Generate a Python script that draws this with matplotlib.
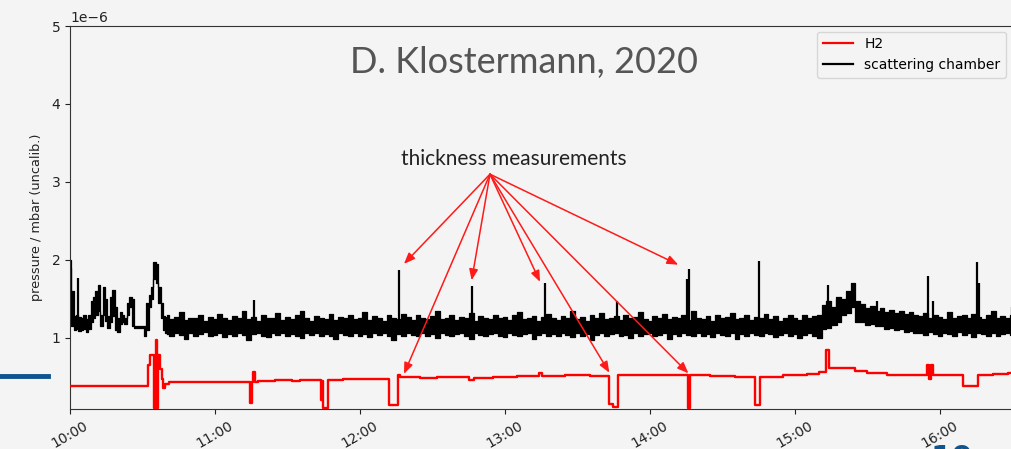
import numpy as np
import matplotlib
matplotlib.use("Agg")
import matplotlib.pyplot as plt
import matplotlib.dates as mdates
from matplotlib.lines import Line2D

# ---------------- data (minutes after 10:00, pressure in 1e-6 mbar) ----------------
early_t = list(range(0, 41))
early_hi = [2.00, 1.60, 1.28, 1.30, 1.27, 1.25, 1.29, 1.24, 1.30, 1.48,
            1.52, 1.60, 1.68, 1.30, 1.66, 1.50, 1.28, 1.52, 1.62, 1.40,
            1.25, 1.33, 1.30, 1.26, 1.45, 1.53, 1.50, 1.15, 1.15, 1.15,
            1.15, 1.15, 1.45, 1.55, 1.65, 1.98, 1.95, 1.65, 1.45, 1.28, 1.27]
early_lo = [1.90, 1.15, 1.10, 1.12, 1.09, 1.10, 1.11, 1.08, 1.12, 1.20,
            1.26, 1.30, 1.35, 1.16, 1.30, 1.22, 1.13, 1.20, 1.28, 1.10,
            1.08, 1.18, 1.20, 1.18, 1.30, 1.40, 1.15, 1.13, 1.13, 1.13,
            1.13, 1.03, 1.10, 1.40, 1.50, 1.75, 1.70, 1.45, 1.25, 1.10, 1.06]

band_t = list(range(40, 392, 2))
band_hi = [1.29, 1.24, 1.27, 1.33, 1.23, 1.26, 1.25, 1.30, 1.22, 1.27,
           1.24, 1.31, 1.26, 1.23, 1.28, 1.25, 1.34, 1.24, 1.27, 1.22,
           1.29, 1.26, 1.25, 1.32, 1.23, 1.27, 1.24, 1.29, 1.35, 1.25,
           1.22, 1.28, 1.26, 1.24, 1.31, 1.23, 1.27, 1.25, 1.30, 1.24,
           1.26, 1.33, 1.23, 1.28, 1.25, 1.22, 1.29, 1.26, 1.24, 1.31,
           1.27, 1.23, 1.30, 1.25, 1.24, 1.28, 1.34, 1.24, 1.26, 1.29,
           1.23, 1.27, 1.25, 1.32, 1.22, 1.28, 1.26, 1.24, 1.30, 1.25,
           1.27, 1.23, 1.29, 1.33, 1.24, 1.26, 1.28, 1.22, 1.27, 1.31,
           1.25, 1.23, 1.28, 1.26, 1.35, 1.24, 1.27, 1.22, 1.29, 1.25,
           1.32, 1.24, 1.26, 1.28, 1.23, 1.30, 1.25, 1.27, 1.33, 1.24,
           1.22, 1.28, 1.26, 1.31, 1.24, 1.27, 1.25, 1.29, 1.23, 1.34,
           1.26, 1.24, 1.28, 1.22, 1.30, 1.25, 1.27, 1.32, 1.24, 1.26,
           1.29, 1.23, 1.27, 1.25, 1.31, 1.24, 1.28, 1.22, 1.26, 1.30,
           1.25, 1.23, 1.29, 1.26, 1.28,
           1.30, 1.42, 1.47, 1.40, 1.52, 1.50, 1.60, 1.70, 1.47, 1.43,
           1.38, 1.41, 1.35, 1.39, 1.33, 1.36, 1.32, 1.35, 1.31, 1.33, 1.30,
           1.28, 1.32, 1.25, 1.29, 1.27, 1.24, 1.33, 1.26, 1.28, 1.30,
           1.25, 1.31, 1.27, 1.24, 1.29, 1.34, 1.26, 1.28, 1.25, 1.30]
band_lo = [1.05, 1.02, 1.07, 1.04, 0.99, 1.06, 1.03, 1.05, 1.08, 1.02,
           1.04, 1.06, 1.01, 1.05, 1.03, 1.07, 1.04, 0.98, 1.05, 1.06,
           1.03, 1.01, 1.06, 1.04, 1.07, 1.02, 1.05, 1.03, 1.00, 1.06,
           1.04, 1.07, 1.02, 1.05, 1.03, 0.99, 1.06, 1.04, 1.02, 1.07,
           1.03, 1.05, 1.01, 1.06, 1.04, 1.07, 1.02, 0.98, 1.05, 1.03,
           1.06, 1.04, 1.02, 1.07, 1.03, 1.05, 1.00, 1.06, 1.04, 1.02,
           1.05, 1.07, 1.03, 0.99, 1.06, 1.04, 1.02, 1.05, 1.07, 1.03,
           1.01, 1.06, 1.04, 1.02, 1.05, 1.07, 0.99, 1.04, 1.06, 1.03,
           1.05, 1.02, 1.07, 1.04, 1.01, 1.06, 1.03, 1.05, 0.98, 1.04,
           1.06, 1.03, 1.05, 1.07, 1.02, 1.04, 1.00, 1.06, 1.03, 1.05,
           1.07, 1.02, 1.04, 1.06, 0.99, 1.05, 1.03, 1.07, 1.04, 1.02,
           1.06, 1.03, 1.05, 1.01, 1.07, 1.04, 1.02, 1.06, 0.99, 1.05,
           1.03, 1.06, 1.04, 1.02, 1.07, 1.05, 1.01, 1.04, 1.06, 1.03,
           1.05, 1.00, 1.04, 1.06, 1.03,
           1.00, 1.12, 1.13, 1.17, 1.21, 1.29, 1.32, 1.40, 1.20, 1.21,
           1.17, 1.18, 1.15, 1.16, 1.12, 1.13, 1.10, 1.11, 1.08, 1.09, 1.07,
           1.07, 1.04, 1.08, 1.05, 1.02, 1.07, 1.05, 1.03, 1.08, 1.04,
           1.06, 1.01, 1.07, 1.05, 1.03, 1.06, 1.02, 1.05, 1.07, 1.04]

spike_t = [3.4, 76.3, 136.3, 166.2, 196.6, 226.2, 255.5, 256.1, 285.2,
           313.8, 317.5, 333.8, 355.2, 357.2, 375.2, 376.0, 382.8, 389.7]
spike_top = [1.77, 1.49, 1.87, 1.67, 1.70, 1.48, 1.75, 1.88, 1.99,
             1.68, 1.49, 1.47, 1.79, 1.47, 1.98, 1.70, 1.35, 1.40]

h2_t = [0, 32.1, 33.0, 34.9, 35.4, 35.9, 36.3, 37.2, 38.0, 38.6, 39.5, 41.0,
        50, 58, 62, 74.3, 75.3, 75.6, 76.5, 78, 85, 92, 95,
        103.8, 104.3, 104.8, 106.8, 113, 118, 125,
        132.1, 135.8, 136.6, 145, 152, 165, 167, 175, 185, 194.2, 195.2,
        205, 215, 223.2, 224.6, 226.9, 235, 245, 255.9, 256.4, 265, 275,
        283.4, 285.5, 295, 305, 310, 313.0, 314.0, 318, 325, 330, 338, 345,
        354.5, 355.3, 356.2, 357.2, 369.7, 375.9, 382, 388, 392]
h2_v = [0.39, 0.65, 0.78, 0.10, 0.97, 0.10, 0.78, 0.60, 0.48, 0.36, 0.41, 0.43,
        0.44, 0.43, 0.44, 0.17, 0.44, 0.57, 0.43, 0.45, 0.46, 0.45, 0.46,
        0.20, 0.45, 0.10, 0.46, 0.47, 0.48, 0.47,
        0.14, 0.53, 0.50, 0.49, 0.50, 0.46, 0.49, 0.50, 0.51, 0.55, 0.51,
        0.52, 0.51, 0.16, 0.12, 0.53, 0.53, 0.52, 0.10, 0.52, 0.51, 0.50,
        0.14, 0.50, 0.52, 0.54, 0.56, 0.85, 0.62, 0.61, 0.58, 0.55, 0.53, 0.53,
        0.65, 0.48, 0.65, 0.53, 0.39, 0.53, 0.54, 0.55, 0.55]

arrow_from = (173.8, 3.10)
arrow_tx = [138.2, 166.2, 194.5, 251.7, 138.2, 223.2, 255.9]
arrow_ty = [1.95, 1.74, 1.72, 1.94, 0.54, 0.555, 0.547]
note_pos = (183.5, 3.22)

x_range = (0, 389.6)
y_range = (0.0897, 5.0)
y_ticks = [1, 2, 3, 4, 5]

# ---------------- helpers ----------------
BASE = np.datetime64("2020-01-01T10:00:00")
SCALE = 1e-6


def tnum(minutes):
    m = np.atleast_1d(np.asarray(minutes, dtype=float))
    dt = BASE + np.round(m * 60).astype("int64").astype("timedelta64[s]")
    return mdates.date2num(dt)


def pv(v):
    return np.asarray(v, dtype=float) * SCALE


BG = "#f4f4f4"
fig = plt.figure(figsize=(10.12, 4.49), dpi=100, facecolor=BG)
ax = fig.add_axes([70 / 1012, 40 / 449, 941.5 / 1012, 383 / 449], facecolor=BG)

# scattering chamber (black)
for tt, hi, lo in [(early_t, early_hi, early_lo), (band_t, band_hi, band_lo)]:
    x = tnum(tt)
    ax.fill_between(x, pv(lo), pv(hi), step="mid", color="black", lw=0, zorder=2)
    ax.plot(x, pv(hi), color="black", lw=0.9, drawstyle="steps-mid", zorder=2)
    ax.plot(x, pv(lo), color="black", lw=0.9, drawstyle="steps-mid", zorder=2)
ax.vlines(tnum(spike_t), pv([1.15] * len(spike_t)), pv(spike_top),
          color="black", lw=1.6, zorder=2)

# H2 (red)
ax.plot(tnum(h2_t), pv(h2_v), color="#ff0000", lw=1.7, drawstyle="steps-post",
        zorder=3)

ax.set_xlim(tnum(x_range[0])[0], tnum(x_range[1])[0])
ax.set_ylim(pv(y_range[0]), pv(y_range[1]))
ax.set_yticks(pv(y_ticks))
ax.xaxis.set_major_locator(mdates.HourLocator())
ax.xaxis.set_major_formatter(mdates.DateFormatter("%H:%M"))
ax.tick_params(labelsize=10, colors="#222222")
for lab in ax.get_xticklabels():
    lab.set_rotation(30)
    lab.set_ha("center")
for sp in ax.spines.values():
    sp.set_color("#333333")
ax.yaxis.get_offset_text().set_fontsize(10)
ax.set_ylabel("pressure / mbar (uncalib.)", fontsize=9.3, color="#222222",
              labelpad=6)

handles = [Line2D([], [], color="#ff0000", lw=1.6),
           Line2D([], [], color="black", lw=1.6)]
leg = ax.legend(handles, ["H2", "scattering chamber"], loc="upper right",
                fontsize=10, handlelength=2.2, facecolor=BG, edgecolor="#d6d6d6",
                framealpha=1.0, borderaxespad=0.4)

# annotation arrows
for tx, ty in zip(arrow_tx, arrow_ty):
    ax.annotate("", xy=(tnum(tx)[0], ty * SCALE),
                xytext=(tnum(arrow_from[0])[0], arrow_from[1] * SCALE),
                arrowprops=dict(arrowstyle="-|>,head_length=0.55,head_width=0.22",
                                color="#ff1a1a", lw=1.1, mutation_scale=12,
                                shrinkA=0, shrinkB=0), zorder=5)
ax.text(tnum(note_pos[0])[0], note_pos[1] * SCALE, "thickness measurements",
        ha="center", va="baseline", fontsize=15, family=["Lato", "DejaVu Sans"],
        color="#222222", zorder=6)

# slide overlay elements
fig.text(524 / 1012, 1 - 73.3 / 449, "D. Klostermann, 2020", ha="center",
         va="baseline", fontsize=26, fontweight="normal",
         family=["Lato", "DejaVu Sans"], color="#555555")
fig.add_artist(Line2D([0, 48 / 1012], [1 - 376 / 449, 1 - 376 / 449],
                      color="#0e5491", lw=3.5, transform=fig.transFigure))
fig.text(952 / 1012, 1 - 444 / 449, "10", ha="center", va="top", fontsize=22,
         fontweight="bold", color="#0e5491")

fig.savefig("out.png", dpi=100, facecolor=BG)
